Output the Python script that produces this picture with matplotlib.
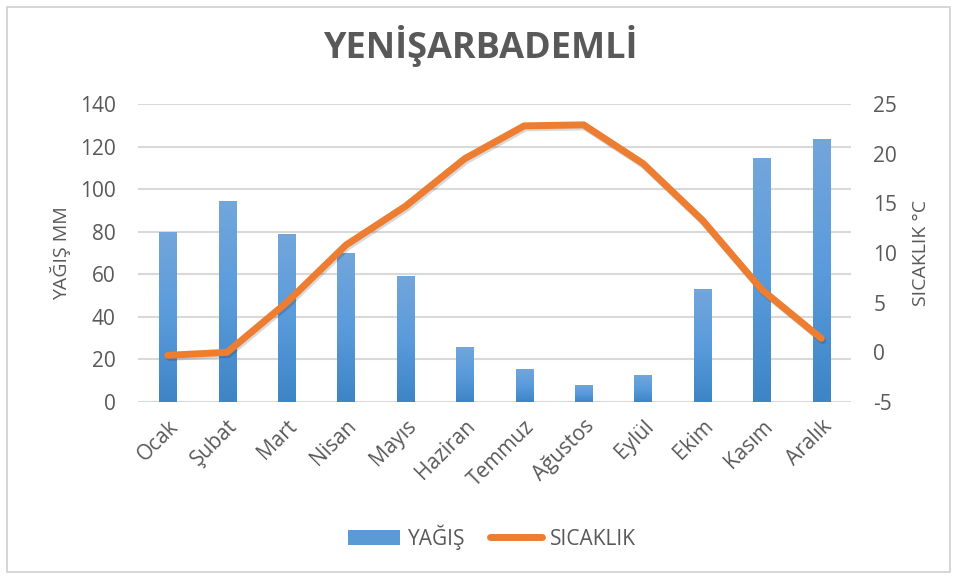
import numpy as np
import matplotlib.pyplot as plt
import matplotlib.patheffects as pe
from matplotlib.patches import Rectangle, Patch
from matplotlib.lines import Line2D
from matplotlib.colors import LinearSegmentedColormap

# Veriler
aylar = ['Ocak', 'Şubat', 'Mart', 'Nisan', 'Mayıs', 'Haziran',
         'Temmuz', 'Ağustos', 'Eylül', 'Ekim', 'Kasım', 'Aralık']
yagis = [80, 94.5, 79, 70, 59, 26, 15.5, 8, 12.5, 53, 114.7, 123.6]
sicaklik = [-0.3, 0.0, 5.0, 10.8, 14.7, 19.5, 22.8, 22.9, 19.0, 13.3, 6.3, 1.4]

gri = '#595959'
plt.rcParams['font.family'] = ['Open Sans', 'DejaVu Sans']
plt.rcParams['axes.unicode_minus'] = False

fig = plt.figure(figsize=(9.6, 5.78), dpi=100)
ax = fig.add_axes([138 / 960, 1 - 402 / 578, (851 - 138) / 960, (402 - 104) / 578])
ax2 = ax.twinx()

# Çerçeve
fig.patches.append(Rectangle((7 / 960, 6 / 578), 943 / 960, 565 / 578,
                             transform=fig.transFigure, fill=False,
                             edgecolor='#d0d0d0', linewidth=1.2))

x = np.arange(len(aylar))
bars = ax.bar(x, yagis, width=0.29, color='#5b9bd5', zorder=2)

# Çubuklarda dikey renk geçişi
grad = np.linspace(0, 1, 100).reshape(-1, 1)
cmap = LinearSegmentedColormap.from_list('g', ['#3e85c6', '#5a9bdb', '#72a6dc'])
for b in bars:
    im = ax.imshow(grad, cmap=cmap, origin='lower', aspect='auto', zorder=2,
                   extent=[b.get_x(), b.get_x() + b.get_width(), 0, b.get_height()])
    im.set_clip_path(b)

ax.set_xlim(-0.5, 11.5)
ax.set_ylim(0, 140)
ax.set_yticks(range(0, 141, 20))
ax.grid(axis='y', color='#d9d9d9', linewidth=1.5, zorder=0)
ax.set_axisbelow(True)
ax.set_xticks(x)
ax.set_xticklabels(aylar, rotation=45, ha='right', rotation_mode='anchor')

ax2.plot(x, sicaklik, color='#ed7d31', linewidth=5, solid_capstyle='round',
         solid_joinstyle='round', zorder=3,
         path_effects=[pe.SimpleLineShadow(offset=(1, -1.5), alpha=0.15), pe.Normal()])
ax2.set_ylim(-5, 25)
ax2.set_yticks(range(-5, 26, 5))

for a in (ax, ax2):
    for s in a.spines.values():
        s.set_visible(False)
    a.tick_params(axis='y', length=0, labelsize=15, colors=gri, pad=16)
ax.tick_params(axis='x', length=0, labelsize=15, colors=gri, pad=10)

ax.set_ylabel('YAĞIŞ MM', fontsize=14, color=gri)
ax.yaxis.set_label_coords((71 - 138) / 713, 0.5)
ax2.set_ylabel('SICAKLIK °C', fontsize=14, color=gri)
ax2.yaxis.set_label_coords((912 - 138) / 713, 0.5)

fig.text(0.5, 1 - 58 / 578, 'YENİŞARBADEMLİ', ha='center', va='baseline',
         fontsize=26, fontweight='bold', color=gri)

handles = [Patch(facecolor='#5b9bd5', label='YAĞIŞ'),
           Line2D([0], [0], color='#ed7d31', linewidth=5, solid_capstyle='round', label='SICAKLIK')]
fig.legend(handles=handles, loc='center', bbox_to_anchor=(492 / 960, 1 - 537 / 578), ncol=2,
           frameon=False, fontsize=15, labelcolor=gri, handlelength=2.5,
           handletextpad=0.35, columnspacing=1.2)

fig.savefig('out.png', dpi=100)
